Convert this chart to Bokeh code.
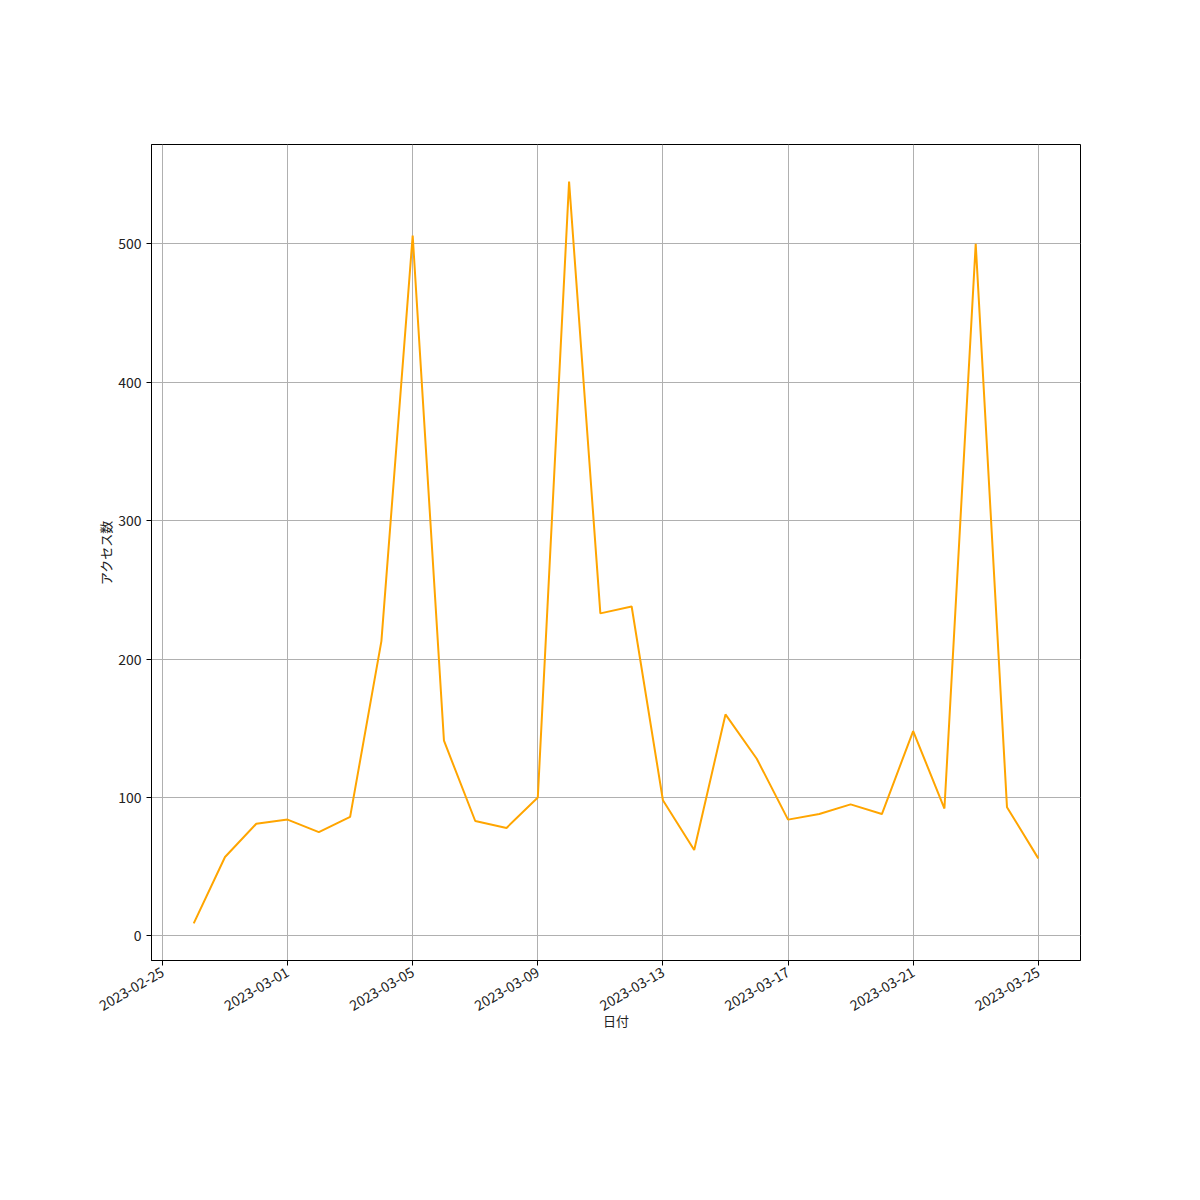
import datetime as dt
import math
from bokeh.plotting import figure
from bokeh.models import Range1d, FixedTicker, DatetimeTickFormatter
from bokeh.embed import file_html
from bokeh.resources import INLINE

dates = [dt.datetime(2023, 2, 26) + dt.timedelta(days=i) for i in range(28)]
access = [9, 57, 81, 84, 75, 86, 213, 506, 141, 83, 78, 100, 545, 233, 238,
          98, 62, 160, 128, 84, 88, 95, 88, 148, 92, 500, 93, 56]
tick_dates = [dt.datetime(2023, 2, 25) + dt.timedelta(days=4 * i) for i in range(8)]
y_ticks = [0, 100, 200, 300, 400, 500]

def ms(d):
    return d.timestamp() * 1000.0

span = ms(dates[-1]) - ms(dates[0])
pad = span * 0.05
ymin, ymax = min(access), max(access)
ypad = (ymax - ymin) * 0.05

p = figure(width=1184, height=1184, output_backend="svg", toolbar_location=None,
           x_axis_type="datetime",
           x_range=Range1d(ms(dates[0]) - pad, ms(dates[-1]) + pad),
           y_range=Range1d(ymin - ypad, ymax + ypad),
           min_border_left=151, min_border_right=104, min_border_top=144,
           min_border_bottom=224)
p.line(dates, access, line_color="orange", line_width=2)

font = "Noto Sans CJK JP"
p.xaxis.ticker = FixedTicker(ticks=[ms(d) for d in tick_dates])
p.xaxis.formatter = DatetimeTickFormatter(days="%Y-%m-%d", months="%Y-%m-%d", years="%Y-%m-%d")
p.xaxis.major_label_orientation = math.pi / 6
p.yaxis.ticker = FixedTicker(ticks=y_ticks)
for ax in (p.xaxis, p.yaxis):
    ax.major_label_text_font = font
    ax.major_label_text_font_size = "14px"
    ax.major_label_text_color = "#222222"
    ax.axis_label_text_font = font
    ax.axis_label_text_font_size = "13px"
    ax.axis_label_text_font_style = "normal"
    ax.axis_label_text_color = "#222222"
    ax.minor_tick_line_color = None
    ax.major_tick_out = 5
    ax.major_tick_in = 0
    ax.axis_line_color = "black"
    ax.major_tick_line_color = "black"
p.xaxis.axis_label = "日付"
p.yaxis.axis_label = "アクセス数"
p.xaxis.axis_label_standoff = -8
p.yaxis.axis_label_standoff = 0
p.outline_line_color = "black"
p.outline_line_alpha = 1
p.xgrid.grid_line_color = "#b0b0b0"
p.ygrid.grid_line_color = "#b0b0b0"
p.xgrid.grid_line_width = 1
p.ygrid.grid_line_width = 1
p.background_fill_color = "white"

open("out.html", "w").write(file_html(p, INLINE))
